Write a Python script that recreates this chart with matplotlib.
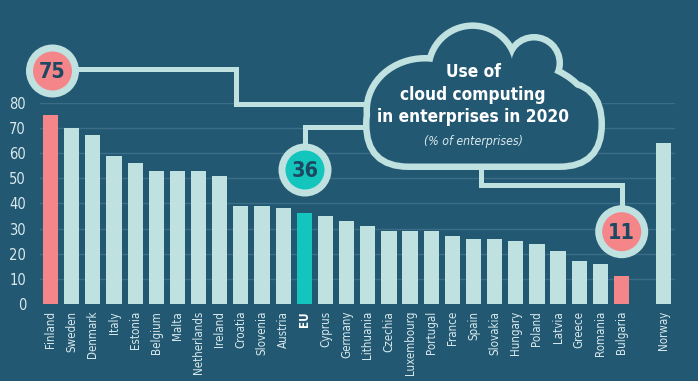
import matplotlib
matplotlib.use("Agg")
import matplotlib.pyplot as plt
from matplotlib.patches import Circle, Ellipse, FancyBboxPatch
from matplotlib import font_manager
from matplotlib.font_manager import FontProperties

countries = ["Finland", "Sweden", "Denmark", "Italy", "Estonia", "Belgium", "Malta",
             "Netherlands", "Ireland", "Croatia", "Slovenia", "Austria", "EU", "Cyprus",
             "Germany", "Lithuania", "Czechia", "Luxembourg", "Portugal", "France", "Spain",
             "Slovakia", "Hungary", "Poland", "Latvia", "Greece", "Romania", "Bulgaria",
             "Norway"]
values = [75, 70, 67, 59, 56, 53, 53, 53, 51, 39, 39, 38, 36, 35, 33, 31, 29, 29, 29,
          27, 26, 26, 25, 24, 21, 17, 16, 11, 64]
yticks = [0, 10, 20, 30, 40, 50, 60, 70, 80]
title_lines = ["Use of", "cloud computing", "in enterprises in 2020"]
subtitle = "(% of enterprises)"

BG = "#235873"
LIGHT = "#bfe1e0"
PINK = "#f4868a"
TEAL = "#13c5bd"
DARK = "#1d4862"
GRID = "#3b6d86"
TXT = "#d8e9ec"

cond = [f for f in font_manager.fontManager.ttflist
        if ("Narrow" in f.name or "Condensed" in f.name or "ondensed" in str(f.stretch)
            or "Narrow" in f.fname or "Condensed" in f.fname)]


def pick(bold=False, italic=False):
    for f in cond:
        isbold = f.weight in ("bold", 700, "700") or (isinstance(f.weight, int) and f.weight >= 600)
        isit = f.style in ("italic", "oblique")
        if isbold == bold and isit == italic:
            return f
    return None


HAVE_COND = pick() is not None


def fp(size, bold=False, italic=False):
    f = pick(bold, italic) if HAVE_COND else None
    if f is not None:
        return FontProperties(fname=f.fname, size=size)
    return FontProperties(family="Liberation Sans", size=size * 0.85,
                          weight="bold" if bold else "normal",
                          style="italic" if italic else "normal")


W, H = 698, 381
fig = plt.figure(figsize=(W / 100, H / 100), dpi=100)
fig.patch.set_facecolor(BG)

x0, x1 = 40, 675
y0, y1 = 304, 102.7
ax = fig.add_axes([x0 / W, (H - y0) / H, (x1 - x0) / W, (y0 - y1) / H])
ax.set_facecolor(BG)

positions = list(range(len(countries) - 1)) + [len(countries)]  # gap before Norway
colors = []
for c, v in zip(countries, values):
    if c == "EU":
        colors.append(TEAL)
    elif v == max(values[:-1]) or v == min(values[:-1]):
        colors.append(PINK)
    else:
        colors.append(LIGHT)
ax.bar(positions, values, width=0.72, color=colors, zorder=3)
ax.set_xlim(-0.5, 29.53)
ax.set_ylim(0, 80)
ax.set_yticks(yticks)
ax.set_yticklabels([str(t) for t in yticks], fontproperties=fp(10.5), color=TXT)
for t in yticks[1:]:
    ax.axhline(t, color=GRID, lw=1.0, zorder=1)
ax.set_xticks(positions)
ax.set_xticklabels(countries, rotation=90, fontproperties=fp(8.3), color=TXT)
for lab in ax.get_xticklabels():
    if lab.get_text() == "EU":
        lab.set_fontproperties(fp(8.3, bold=True))
        lab.set_color("white")
ax.tick_params(axis="both", length=0)
ax.tick_params(axis="y", pad=10)
ax.tick_params(axis="x", pad=5)
for s in ax.spines.values():
    s.set_visible(False)

ov = fig.add_axes([0, 0, 1, 1], zorder=5)
ov.set_xlim(0, W)
ov.set_ylim(H, 0)
ov.axis("off")
ov.patch.set_visible(False)

LW = 3.6
ov.plot([52, 236, 236, 380], [69, 69, 104, 104], color=LIGHT, lw=LW, solid_joinstyle="miter", zorder=1)
ov.plot([305, 305, 380], [170, 127, 127], color=LIGHT, lw=LW, solid_joinstyle="miter", zorder=1)
ov.plot([621.7, 621.7, 481, 481], [231.7, 185, 185, 150], color=LIGHT, lw=LW, solid_joinstyle="miter", zorder=1)

# cloud: shapes describe the inner boundary; a wide stroke drawn beneath the
# fills leaves an outline around their union only
ow = 6.5
stroke = 2 * ow * 72 / 100


def cloud_shapes():
    return [
        FancyBboxPatch((369.5, 85), 229, 78.5, boxstyle="round,pad=0,rounding_size=39"),
        Ellipse((425, 110), 2 * 55, 2 * 48.5),
        Ellipse((490, 108), 2 * 95, 2 * 48),
        Circle((472.6, 69.8), 40.9),
        Circle((534, 63), 22.5),
    ]


for s in cloud_shapes():
    s.set_facecolor(LIGHT)
    s.set_edgecolor(LIGHT)
    s.set_linewidth(stroke)
    s.set_zorder(2)
    ov.add_patch(s)
for s in cloud_shapes():
    s.set_facecolor(BG)
    s.set_edgecolor("none")
    s.set_linewidth(0)
    s.set_zorder(3)
    ov.add_patch(s)

for line, yy in zip(title_lines, [72, 95, 117]):
    ov.text(473, yy, line, ha="center", va="center", fontproperties=fp(12.4, bold=True),
            color="white", zorder=4)
ov.text(473, 142, subtitle, ha="center", va="center", fontproperties=fp(8.8, italic=True),
        color=TXT, zorder=4)

badges = [("Finland", (52.5, 71), PINK), ("EU", (305, 170), TEAL), ("Bulgaria", (621.7, 231.7), PINK)]
for name, (cx, cy), col in badges:
    v = values[countries.index(name)]
    ov.add_patch(Circle((cx, cy), 26.5, color=LIGHT, lw=0, zorder=6))
    ov.add_patch(Circle((cx, cy), 19.5, color=col, lw=0, zorder=7))
    ov.text(cx, cy + 1, str(v), ha="center", va="center", fontproperties=fp(15.5, bold=True),
            color=DARK, zorder=8)

fig.savefig("out.png", dpi=100, facecolor=BG)
